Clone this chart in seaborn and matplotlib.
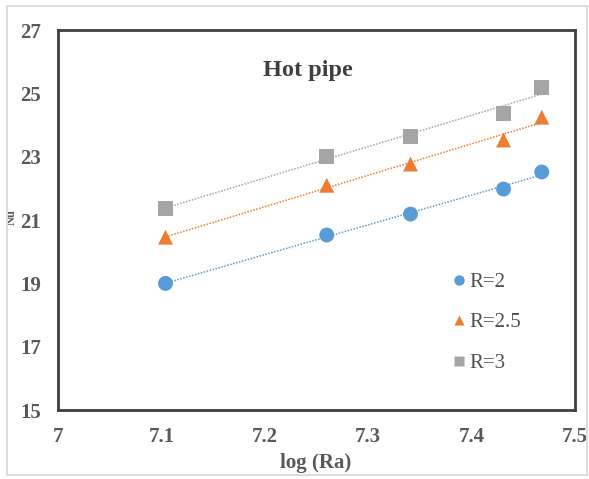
import numpy as np
import pandas as pd
import matplotlib
matplotlib.use("Agg")
import matplotlib.pyplot as plt
import seaborn as sns

log_ra = [7.104, 7.260, 7.341, 7.431, 7.468]
nu_r2 = [19.0, 20.53, 21.19, 21.98, 22.52]
nu_r25 = [20.46, 22.1, 22.77, 23.53, 24.25]
nu_r3 = [21.38, 23.02, 23.65, 24.38, 25.2]
labels = ["R=2", "R=2.5", "R=3"]
colors = ["#5B9BD5", "#ED7D31", "#A5A5A5"]
markers = ["o", "^", "s"]

sns.set_theme(style="white")
plt.rcParams["font.family"] = ["Liberation Serif", "DejaVu Serif"]

rows = []
for lab, vals in zip(labels, [nu_r2, nu_r25, nu_r3]):
    for x, y in zip(log_ra, vals):
        rows.append({"logRa": x, "Nu": y, "R": lab})
df = pd.DataFrame(rows)

fig = plt.figure(figsize=(5.89, 4.79), dpi=100)
ax = fig.add_axes([0.0985, 0.144, 0.8775, 0.793])

for lab, col, vals in zip(labels, colors, [nu_r2, nu_r25, nu_r3]):
    k, b = np.polyfit(log_ra, vals, 1)
    xs = np.array([log_ra[0], log_ra[-1]])
    ax.plot(xs, k * xs + b, linestyle=(0, (1, 1)), color=col, lw=1.1, zorder=1)

sns.scatterplot(data=df, x="logRa", y="Nu", hue="R", style="R",
                palette=dict(zip(labels, colors)), markers=dict(zip(labels, markers)),
                s=115, edgecolor="none", ax=ax, zorder=3)

ax.set_xlim(7, 7.5)
ax.set_ylim(15, 27)
ax.set_xticks([7, 7.1, 7.2, 7.3, 7.4, 7.5])
ax.set_xticklabels(["7", "7.1", "7.2", "7.3", "7.4", "7.5"])
ax.set_yticks([15, 17, 19, 21, 23, 25, 27])
ax.tick_params(axis="both", length=0, labelsize=15, labelcolor="#595959")
ax.tick_params(axis="y", pad=12)
ax.tick_params(axis="x", pad=12)
for t in ax.get_xticklabels() + ax.get_yticklabels():
    t.set_fontweight("bold")
for sp in ax.spines.values():
    sp.set_color("#3F3F3F")
    sp.set_linewidth(2)

ax.set_xlabel("log (Ra)", fontsize=15, fontweight="bold", color="#595959")
ax.set_ylabel("Nu", fontsize=9, fontweight="bold", color="#595959")
ax.xaxis.set_label_coords(0.499, -0.14)
ax.xaxis.label.set_va("center")
ax.yaxis.set_label_coords(-0.09, 0.508)
ax.yaxis.label.set_va("center")

ax.text(0.484, 0.895, "Hot pipe", transform=ax.transAxes, ha="center", va="center",
        fontsize=17.5, fontweight="bold", color="#404040")

leg = ax.legend(loc="center left", bbox_to_anchor=(0.719, 0.23), frameon=False,
                fontsize=15, labelspacing=1.0, handletextpad=0.0, markerscale=0.7,
                handlelength=1.0)
for t in leg.get_texts():
    t.set_color("#505050")

fig.patches.append(plt.Rectangle((0.012, 0.008), 0.985, 0.98, transform=fig.transFigure,
                                 fill=False, edgecolor="#DDDDDD", lw=1.5))

fig.savefig("out.png", dpi=100)
